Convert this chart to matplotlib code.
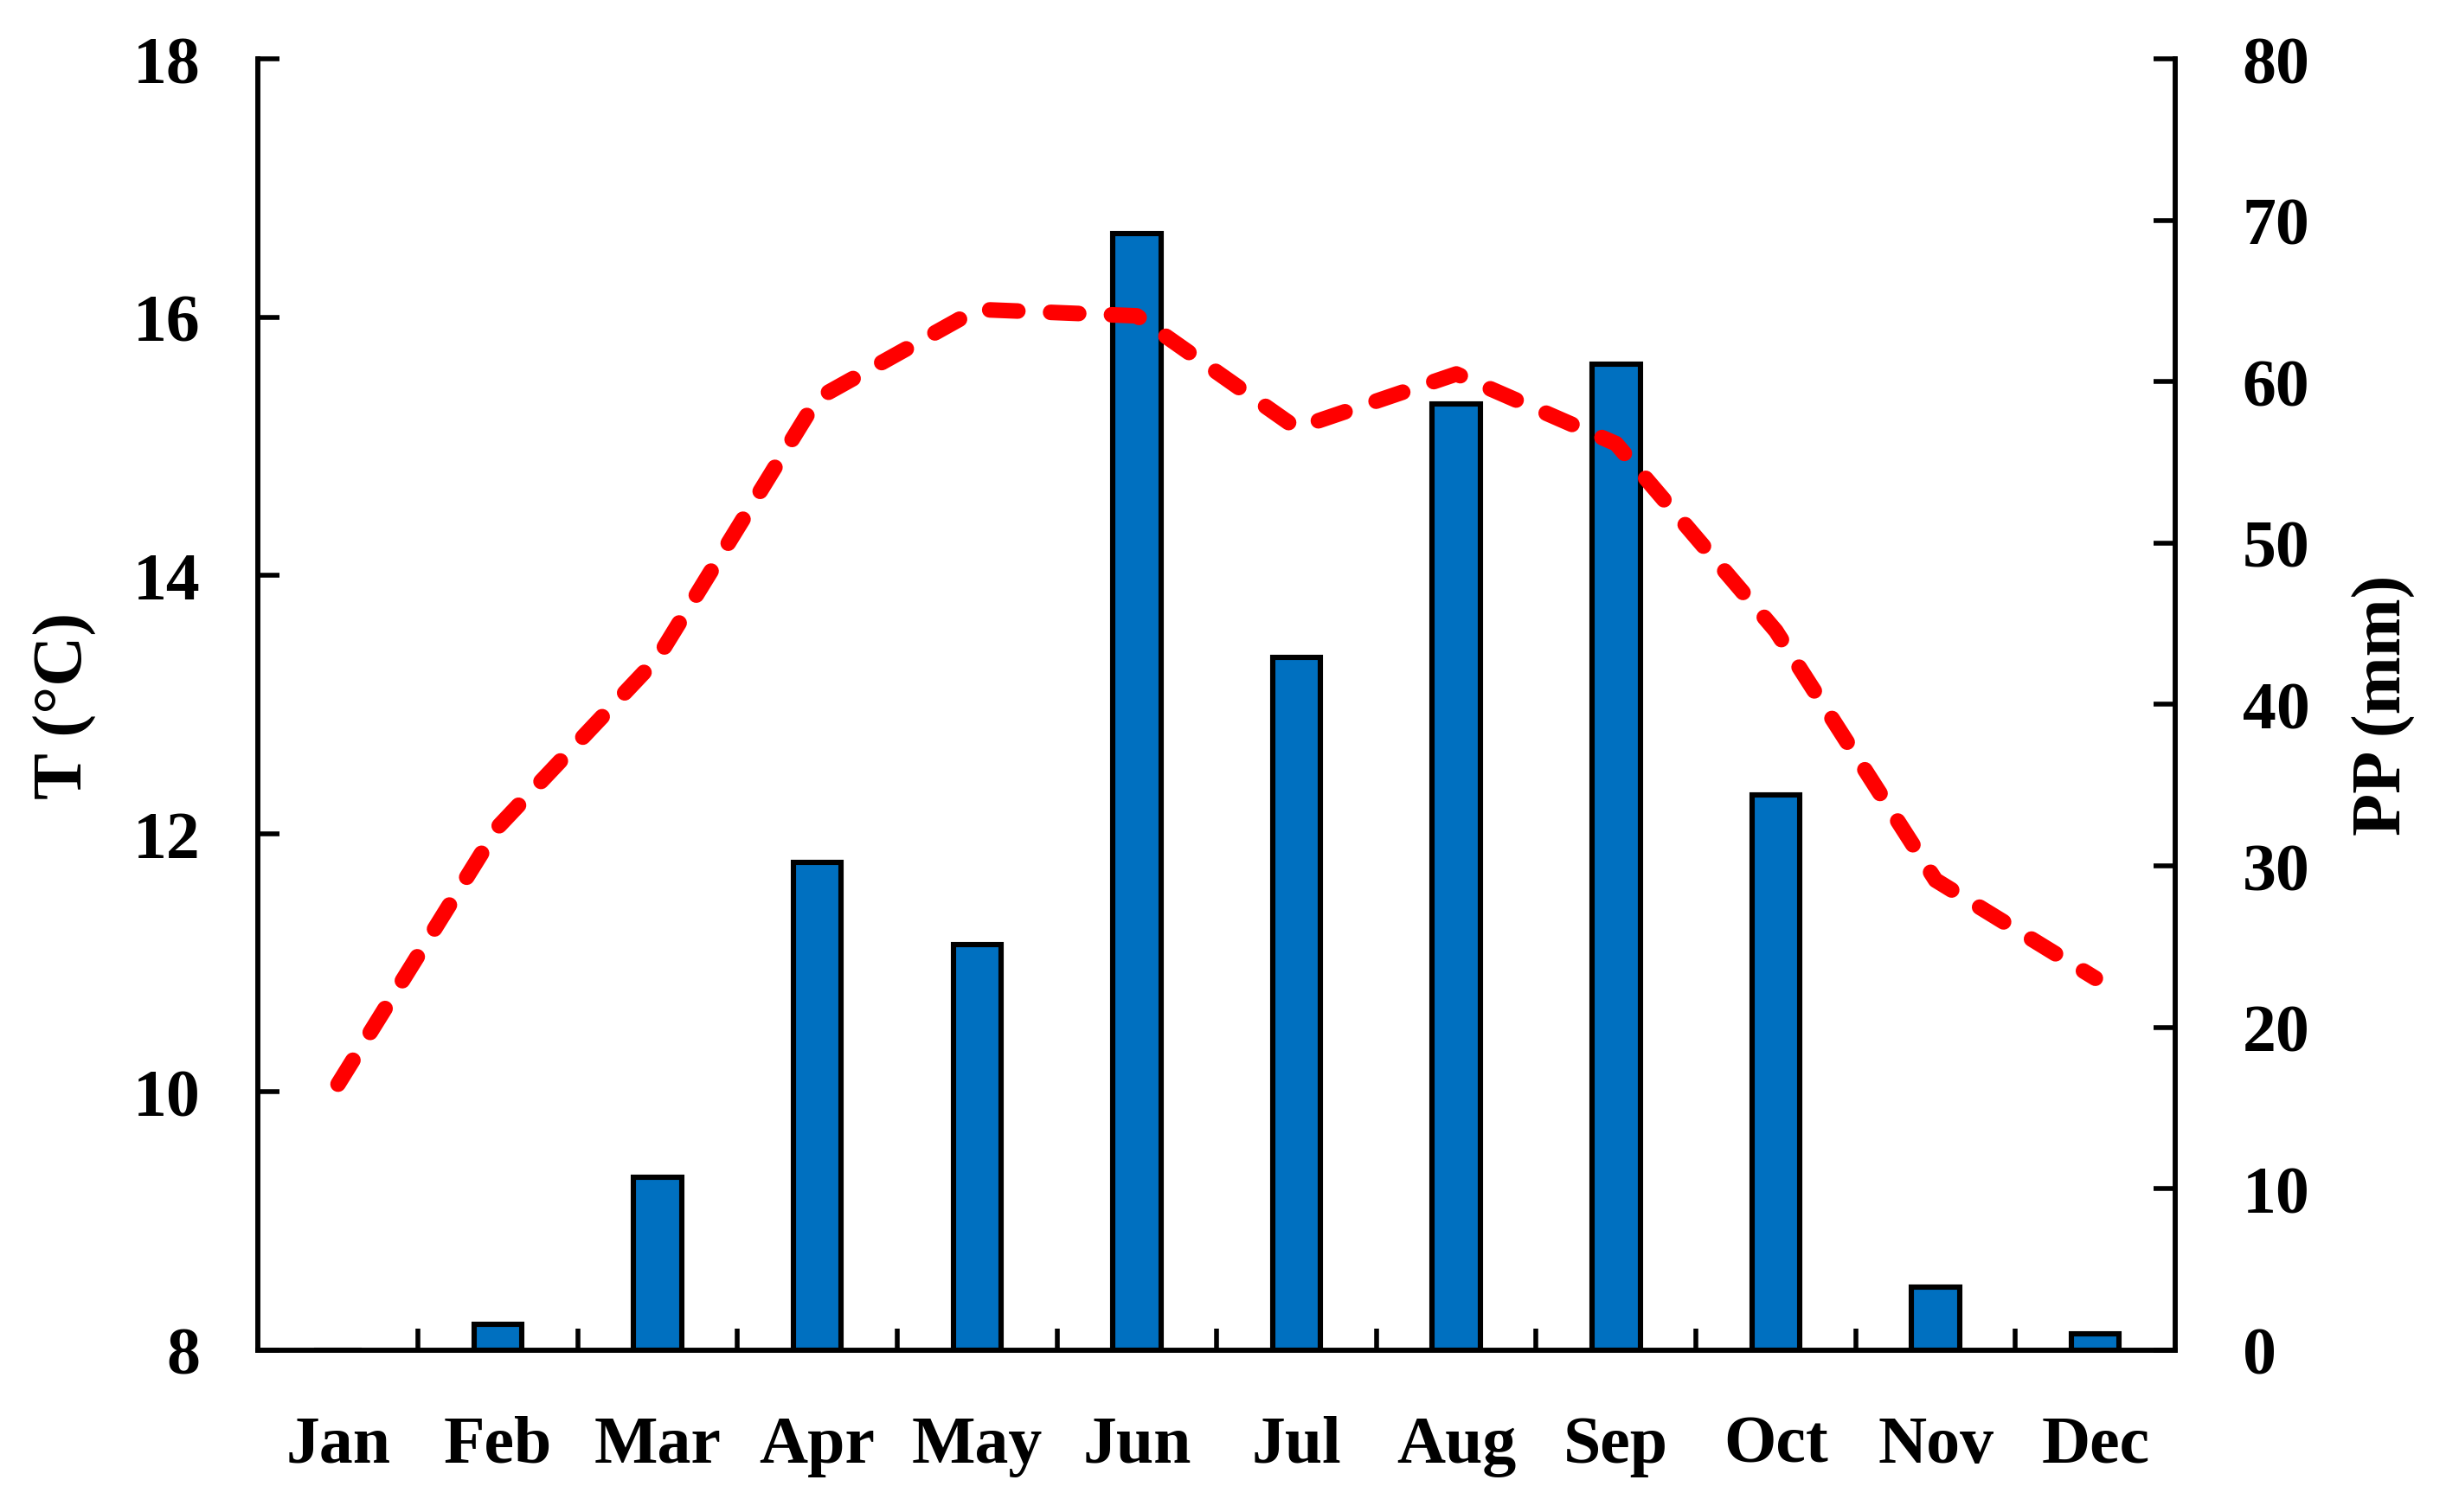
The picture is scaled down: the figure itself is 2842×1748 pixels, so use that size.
import matplotlib
matplotlib.use('Agg')
import matplotlib.pyplot as plt
import numpy as np

# monthly climate data
months = ['Jan', 'Feb', 'Mar', 'Apr', 'May', 'Jun', 'Jul', 'Aug', 'Sep', 'Oct', 'Nov', 'Dec']
precip_mm = [0.0, 1.6, 10.7, 30.2, 25.1, 69.2, 42.9, 58.6, 61.1, 34.4, 3.9, 1.0]
temp_c = [10.06, 12.05, 13.36, 15.37, 16.06, 16.01, 15.14, 15.56, 15.02, 13.57, 11.64, 10.88]
t_ticks = [8, 10, 12, 14, 16, 18]
pp_ticks = [0, 10, 20, 30, 40, 50, 60, 70, 80]

plt.rcParams['font.family'] = ['Liberation Serif', 'DejaVu Serif']
plt.rcParams['font.weight'] = 'bold'

fig = plt.figure(figsize=(14.21, 8.745), dpi=200)
ax1 = fig.add_subplot(111)
ax2 = ax1.twinx()
fig.subplots_adjust(left=0.105, right=0.8846, top=0.9605, bottom=0.107)

x = np.arange(len(months))

# bars on the right (precipitation) axis
ax2.bar(x, precip_mm, width=0.3, color='#0070C0', edgecolor='black', linewidth=2.2, zorder=2)
ax2.set_ylim(0, 80)
ax2.set_yticks(pp_ticks)

# temperature line on the left axis, drawn above the bars
ax1.plot(x, temp_c, color='#FF0000', linewidth=6.5, linestyle=(0, (1.8, 2.1)),
         dash_capstyle='round', zorder=3)
ax1.set_ylim(8, 18)
ax1.set_yticks(t_ticks)
ax1.set_xlim(-0.5, len(months) - 0.5)
ax1.set_zorder(ax2.get_zorder() + 1)
ax1.patch.set_visible(False)

# x ticks: labels at month centres, marks at the boundaries
ax1.set_xticks(x)
ax1.set_xticklabels(months)
ax1.set_xticks(np.arange(0.5, len(months) - 1, 1.0), minor=True)
ax1.tick_params(axis='x', which='major', length=0, pad=27, labelsize=28)
ax1.tick_params(axis='x', which='minor', direction='in', length=9, width=2)
ax1.tick_params(axis='y', direction='in', length=9, width=2, pad=24, labelsize=28)
ax2.tick_params(axis='y', direction='in', length=9, width=2, pad=28, labelsize=28)

for ax in (ax1, ax2):
    ax.spines['top'].set_visible(False)
    for s in ('left', 'right', 'bottom'):
        ax.spines[s].set_linewidth(2)

ax1.set_ylabel('T (°C)', fontsize=29, fontweight='bold', va='center')
ax1.yaxis.set_label_coords(-0.1007, 0.5)
ax2.set_ylabel('PP (mm)', fontsize=29, fontweight='bold', va='center', rotation=90)
ax2.yaxis.set_label_coords(1.109, 0.5)

fig.savefig('out.png', dpi=200)
plt.close(fig)
